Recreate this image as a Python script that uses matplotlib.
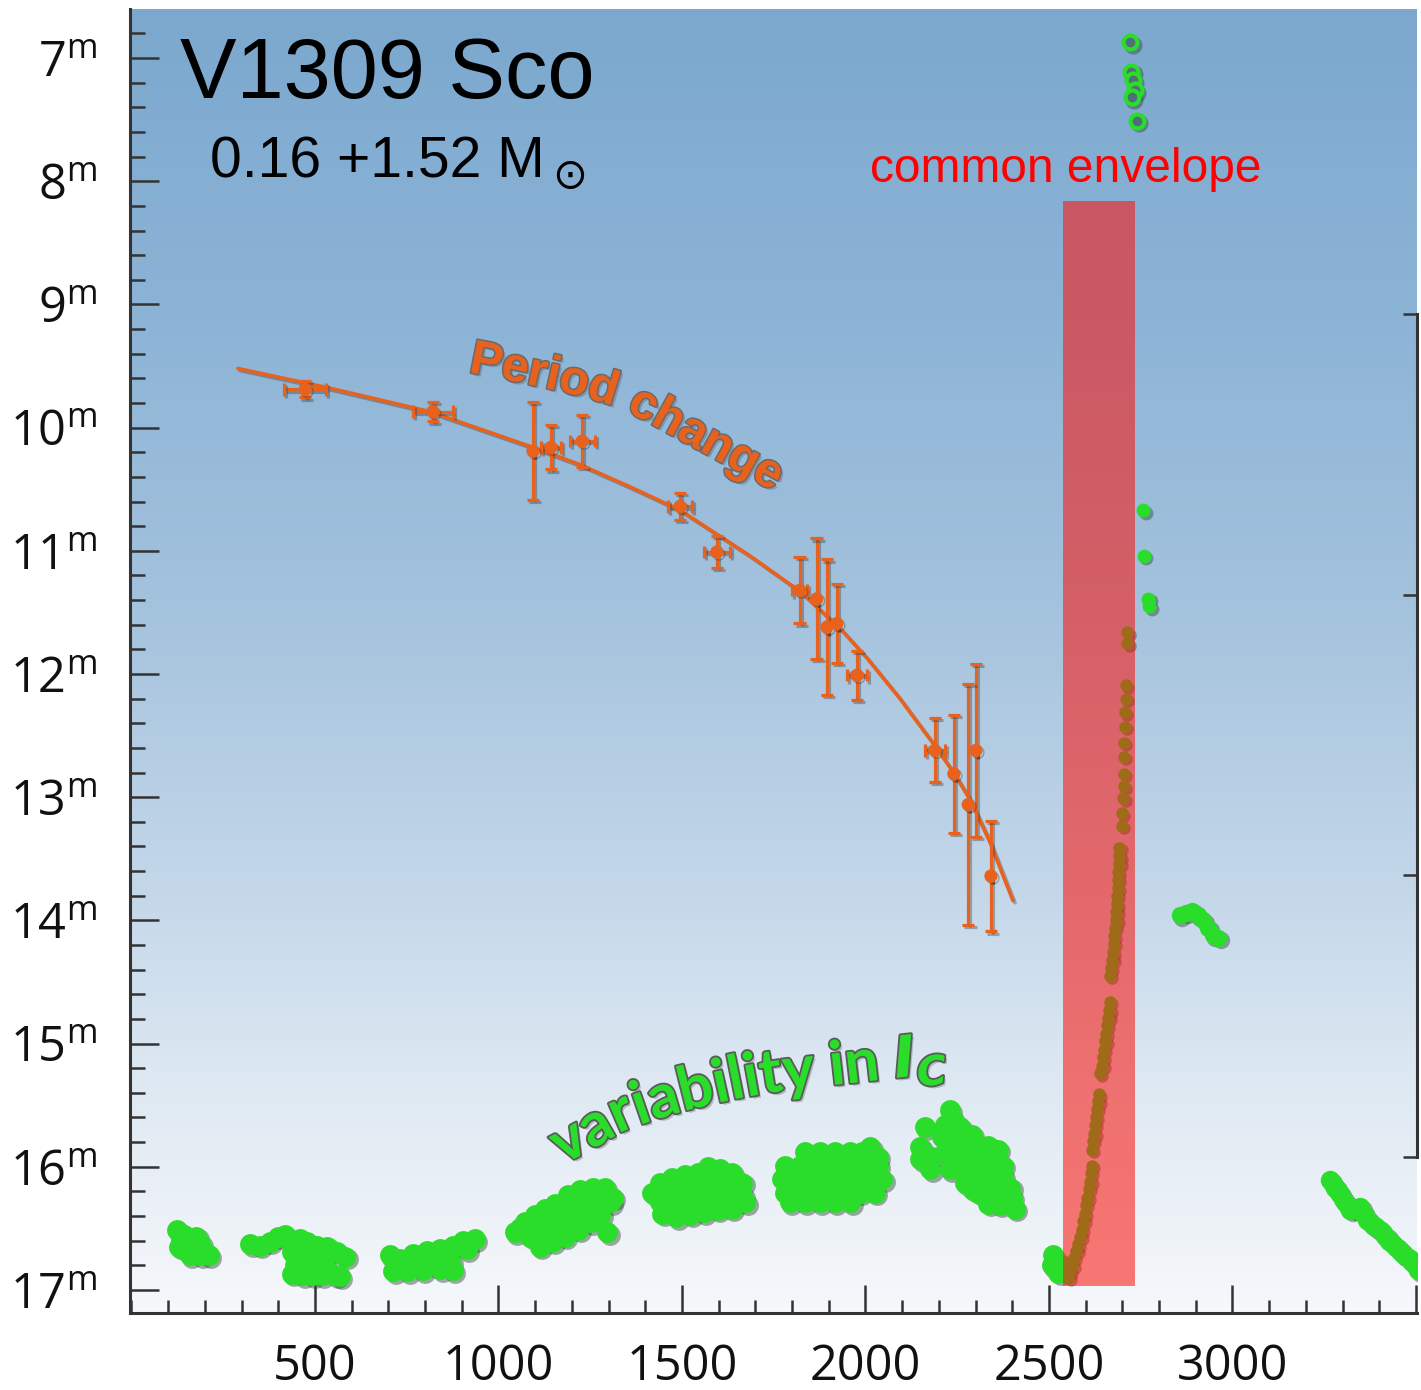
import numpy as np
import matplotlib
matplotlib.use("Agg")
import matplotlib.pyplot as plt
import matplotlib.patheffects as pe
from matplotlib import font_manager, ft2font
from matplotlib.font_manager import FontProperties
from matplotlib.ticker import MultipleLocator
from matplotlib.transforms import IdentityTransform, offset_copy

W_PX, H_PX, DPI = 1421, 1390, 100

# ---------------- axes scales ----------------
day_ticks = [500, 1000, 1500, 2000, 2500, 3000, 3500]
day_labels = ["500", "1000", "1500", "2000", "2500", "3000", ""]
mag_ticks = [7, 8, 9, 10, 11, 12, 13, 14, 15, 16, 17]
period_axis_ticks = [9.08, 11.36, 13.63, 15.92]

# ---------------- period change (timing residuals) ----------------
period_x = [473, 821, 1094, 1143, 1228, 1495, 1595, 1821, 1867, 1895, 1922,
            1977, 2189, 2241, 2280, 2301, 2342]
period_y = [9.69, 9.87, 10.19, 10.16, 10.11, 10.64, 11.01, 11.32, 11.39, 11.62,
            11.59, 12.01, 12.62, 12.81, 13.06, 12.62, 13.64]
period_xerr = [57, 55, 0, 27, 34, 33, 35, 20, 0, 0, 0, 27, 27, 0, 0, 0, 0]
period_yerr = [0.065, 0.08, 0.40, 0.18, 0.21, 0.11, 0.13, 0.27, 0.49, 0.55,
               0.32, 0.20, 0.26, 0.48, 0.98, 0.70, 0.45]
trend_x = [290, 541, 813, 1094, 1222, 1358, 1495, 1685, 1822, 1931, 2004,
           2094, 2181, 2238, 2285, 2340, 2402]
trend_y = [9.52, 9.68, 9.87, 10.16, 10.30, 10.48, 10.67, 11.04, 11.33, 11.63,
           11.87, 12.20, 12.55, 12.79, 13.02, 13.37, 13.84]

# ---------------- I_C photometry, observing seasons ----------------
season1_x = [124, 143, 135, 129, 149, 176, 187, 159, 187, 211]
season1_y = [16.51, 16.55, 16.59, 16.65, 16.68, 16.57, 16.62, 16.72, 16.72, 16.72]

season2_x = [323, 350, 377, 399, 418, 437, 459, 478, 505, 533, 560, 582,
             437, 459, 486, 514, 446, 473, 500, 527, 437, 465, 492, 519, 555, 568]
season2_y = [16.63, 16.64, 16.61, 16.57, 16.55, 16.60, 16.59, 16.61, 16.64, 16.65, 16.69, 16.73,
             16.69, 16.72, 16.73, 16.75, 16.80, 16.81, 16.83, 16.81, 16.87, 16.88, 16.88, 16.88, 16.88, 16.89]

season3_x = [704, 732, 767, 805, 841, 876, 903, 936, 914, 713, 751, 794, 841,
             876, 868, 718, 773, 813, 827]
season3_y = [16.72, 16.75, 16.71, 16.68, 16.67, 16.64, 16.60, 16.59, 16.67, 16.85, 16.85, 16.84, 16.83,
             16.84, 16.77, 16.80, 16.77, 16.76, 16.80]

season4_x = [1045, 1072, 1100, 1127, 1154, 1190, 1222, 1258, 1290, 1312,
             1086, 1121, 1160, 1195, 1230, 1268, 1304,
             1113, 1146, 1181, 1217, 1250, 1277, 1296,
             1060, 1095, 1130, 1165, 1200, 1240, 1275]
season4_y = [16.53, 16.45, 16.39, 16.34, 16.30, 16.23, 16.19, 16.17, 16.17, 16.25,
             16.57, 16.55, 16.49, 16.43, 16.37, 16.31, 16.29,
             16.65, 16.61, 16.57, 16.51, 16.45, 16.39, 16.53,
             16.50, 16.46, 16.41, 16.36, 16.31, 16.26, 16.23]

season5_x = [1418, 1440, 1473, 1508, 1544, 1571, 1604, 1636, 1664,
             1440, 1476, 1511, 1549, 1587, 1625, 1664,
             1446, 1484, 1522, 1560, 1598, 1636, 1672,
             1458, 1494, 1530, 1568, 1606, 1644,
             1462, 1500, 1538, 1576, 1614, 1650]
season5_y = [16.21, 16.13, 16.09, 16.07, 16.05, 16.00, 16.02, 16.05, 16.13,
             16.29, 16.25, 16.22, 16.21, 16.18, 16.17, 16.23,
             16.38, 16.41, 16.39, 16.37, 16.35, 16.34, 16.29,
             16.16, 16.15, 16.14, 16.12, 16.10, 16.11,
             16.33, 16.32, 16.30, 16.28, 16.26, 16.26]

season6_x = [1835, 1876, 1917, 1958, 1990,
             1781, 1822, 1862, 1903, 1944, 1985, 2034,
             1773, 1813, 1854, 1895, 1936, 1977, 2018, 2046,
             1781, 1822, 1862, 1903, 1944, 1985, 2026,
             1794, 1835, 1876, 1917, 1958, 2013, 2034]
season6_y = [15.88, 15.88, 15.88, 15.88, 15.88,
             15.99, 15.99, 15.99, 15.99, 15.99, 15.99, 15.99,
             16.10, 16.10, 16.10, 16.10, 16.10, 16.10, 16.10, 16.10,
             16.21, 16.21, 16.21, 16.21, 16.21, 16.21, 16.21,
             16.29, 16.29, 16.29, 16.29, 16.29, 15.84, 15.92]

season7_x = [2230, 2238, 2217, 2258, 2162, 2290, 2209, 2244, 2149, 2149, 2181,
             2217, 2258, 2299, 2334, 2361, 2176, 2230, 2271, 2312, 2347, 2374,
             2271, 2307, 2339, 2374, 2394, 2307, 2339, 2372, 2399, 2334, 2366, 2407,
             2285, 2320, 2290, 2355, 2355, 2322, 2290]
season7_y = [15.54, 15.62, 15.66, 15.68, 15.68, 15.74, 15.76, 15.78, 15.84, 15.94, 15.92,
             15.88, 15.88, 15.84, 15.83, 15.86, 16.02, 16.02, 15.99, 15.96, 15.94, 15.99,
             16.13, 16.10, 16.08, 16.08, 16.17, 16.21, 16.21, 16.22, 16.25, 16.30, 16.31, 16.34,
             15.90, 16.02, 16.05, 16.05, 16.15, 16.17, 16.18]

preoutburst_x = [2511, 2508, 2525, 2535]
preoutburst_y = [16.72, 16.80, 16.86, 16.80]

rise_x = [2552, 2557, 2563, 2568, 2574, 2579, 2585, 2590, 2593, 2598, 2601, 2604,
          2609, 2612, 2614, 2617,
          2617, 2620, 2623, 2625, 2628, 2631, 2634, 2636,
          2639, 2645, 2647, 2650, 2653, 2655, 2658, 2661, 2664, 2666,
          2666, 2669, 2672, 2674, 2677, 2677, 2680, 2683, 2683, 2685, 2685, 2688,
          2688, 2688, 2691, 2691, 2691,
          2699, 2699, 2702, 2704, 2704, 2704, 2704, 2707, 2707, 2710, 2710, 2713, 2713]
rise_y = [16.90, 16.85, 16.80, 16.74, 16.68, 16.63, 16.57, 16.51, 16.44, 16.38, 16.31, 16.25,
          16.18, 16.12, 16.05, 15.99,
          15.86, 15.79, 15.73, 15.66, 15.60, 15.53, 15.47, 15.41,
          15.24, 15.18, 15.11, 15.05, 14.98, 14.92, 14.85, 14.79, 14.73, 14.66,
          14.45, 14.39, 14.32, 14.26, 14.19, 14.13, 14.06, 14.00, 13.93, 13.87, 13.80, 13.74,
          13.67, 13.61, 13.54, 13.48, 13.41,
          13.23, 13.13, 13.01, 12.91, 12.81, 12.67, 12.56, 12.43, 12.31, 12.20, 12.09, 11.75, 11.66]

peak_x = [2721, 2724, 2729, 2734, 2726, 2740]
peak_y = [6.87, 7.11, 7.18, 7.26, 7.32, 7.51]

decline_early_x = [2757, 2759, 2770, 2773]
decline_early_y = [10.67, 11.04, 11.39, 11.45]

decline_mid_x = [2857, 2873, 2890, 2905, 2920, 2934, 2947, 2961]
decline_mid_y = [13.96, 13.94, 13.92, 13.96, 14.00, 14.06, 14.12, 14.14]

decline_late_x = [3266, 3273, 3280, 3287, 3293, 3300, 3307, 3314, 3321, 3334, 3348, 3358, 3367,
                  3375, 3383, 3392, 3402, 3410, 3419, 3428, 3438, 3447, 3457, 3466, 3476,
                  3483, 3490, 3498, 3506]
decline_late_y = [16.11, 16.14, 16.17, 16.20, 16.22, 16.26, 16.29, 16.32, 16.35, 16.34, 16.33, 16.38, 16.43,
                  16.45, 16.47, 16.49, 16.51, 16.54, 16.57, 16.60, 16.63, 16.65, 16.68, 16.71, 16.73,
                  16.75, 16.77, 16.80, 16.84]

# common-envelope interval
ce_start, ce_end = 2538, 2734
ce_top, ce_bottom = 8.16, 16.97

ORANGE = "#E8621E"
GREEN = "#2BDD2B"
RED_TXT = "#FF0000"

plt.rcParams["font.family"] = ["Open Sans", "DejaVu Sans"]
plt.rcParams["axes.unicode_minus"] = False

fig = plt.figure(figsize=(W_PX / DPI, H_PX / DPI), dpi=DPI, facecolor="white")
ax = fig.add_axes([130 / W_PX, 1 - 1313 / H_PX, (1417 - 130) / W_PX, (1313 - 9) / H_PX])
ax.set_facecolor("white")

# sky-like vertical gradient behind the data
stops = [0.0, 0.163, 0.317, 0.547, 0.777, 1.0]
cols = ["#F6F8FB", "#E0EAF3", "#C5D8EA", "#A3C2DD", "#8BB3D6", "#7CA8CE"]
rgb = np.array([matplotlib.colors.to_rgb(c) for c in cols])
fr = np.linspace(1, 0, 600)
grad = np.stack([np.interp(fr, stops, rgb[:, k]) for k in range(3)], axis=-1)[:, None, :]
ax.imshow(grad, extent=(0, 1, 0, 1), transform=ax.transAxes, aspect="auto",
          interpolation="bicubic", zorder=0)

ax.set_xlim(-4, 3503)
ax.set_ylim(17.187, 6.602)

# ---- period change ----
line_fx = [pe.SimpleLineShadow(offset=(1.5, -1.5), shadow_color="0.2", alpha=0.35), pe.Normal()]
tl, = ax.plot(trend_x, trend_y, color=ORANGE, lw=2.6, zorder=3, solid_capstyle="round",
              solid_joinstyle="round")
tl.set_path_effects(line_fx)
eb = ax.errorbar(period_x, period_y, xerr=period_xerr, yerr=period_yerr, fmt="o", ms=8.5,
                 color=ORANGE, ecolor=ORANGE, elinewidth=2.3, capsize=4.5, capthick=2.3, zorder=3)
data_line, caplines, barcols = eb.lines
for a in [data_line, *caplines, *barcols]:
    a.set_path_effects(line_fx)

# ---- I_C light curve ----
shadow_tr = offset_copy(ax.transData, fig=fig, x=2.5, y=-2.5, units="dots")


def green_points(xs, ys, ms, **kw):
    ax.plot(xs, ys, "o", ms=ms, color="#2f4a36", alpha=0.45, mew=0, transform=shadow_tr, zorder=3.5)
    ax.plot(xs, ys, "o", ms=ms, color=GREEN, mew=0, zorder=4, **kw)


for sx, sy in [(season1_x, season1_y), (season2_x, season2_y), (season3_x, season3_y),
               (season4_x, season4_y), (season5_x, season5_y), (season6_x, season6_y),
               (season7_x, season7_y), (preoutburst_x, preoutburst_y)]:
    green_points(sx, sy, 15)
green_points(rise_x, rise_y, 9)
green_points(decline_early_x, decline_early_y, 10)
green_points(decline_mid_x, decline_mid_y, 12.5)
green_points(decline_late_x, decline_late_y, 14)
ax.plot(peak_x, peak_y, "o", ms=10, mfc="none", mec="#2f4a36", mew=3, alpha=0.45,
        transform=shadow_tr, zorder=3.5)
ax.plot(peak_x, peak_y, "o", ms=10, mfc="#4f6f78", mec=GREEN, mew=3, zorder=4)

# ---- common envelope bar ----
ax.bar([ce_start], [ce_bottom - ce_top], bottom=[ce_top], width=ce_end - ce_start,
       align="edge", color=(0.99, 0.07, 0.04), alpha=0.56, lw=0, zorder=5)

# ---- axes styling ----
for side in ["top", "right"]:
    ax.spines[side].set_visible(False)
for side in ["left", "bottom"]:
    ax.spines[side].set_linewidth(2.2)
    ax.spines[side].set_color("#333333")
    ax.spines[side].set_zorder(6)

ax.set_xticks(day_ticks, labels=day_labels)
ax.set_yticks(mag_ticks, labels=[rf"$\mathregular{{{m}^{{m}}}}$" for m in mag_ticks])
ax.xaxis.set_minor_locator(MultipleLocator(100))
ax.yaxis.set_minor_locator(MultipleLocator(0.2))
ax.tick_params(axis="both", which="both", direction="in", color="#333333", width=1.8)
ax.tick_params(axis="y", which="major", length=21, pad=24, labelsize=35)
ax.tick_params(axis="y", which="minor", length=10.5)
ax.tick_params(axis="x", which="major", length=20, pad=21, labelsize=35)
ax.tick_params(axis="x", which="minor", length=9.5)
for lab in ax.get_xticklabels() + ax.get_yticklabels():
    lab.set_color("#111111")

# bracket axis on the right for the period scale
ax2 = ax.twinx()
ax2.set_ylim(ax.get_ylim())
for side in ["left", "top", "bottom"]:
    ax2.spines[side].set_visible(False)
ax2.spines["right"].set_bounds(period_axis_ticks[0], period_axis_ticks[-1])
ax2.spines["right"].set_linewidth(2.2)
ax2.spines["right"].set_color("#333333")
ax2.set_yticks(period_axis_ticks)
ax2.tick_params(axis="y", direction="in", length=10, width=1.8, color="#333333", labelright=False)
ax2.yaxis.set_minor_locator(matplotlib.ticker.NullLocator())


# ---------------- annotations ----------------
def fpos(x, y):
    return x / W_PX, 1 - y / H_PX


fig.text(*fpos(180, 98), "V1309 Sco", family="Liberation Sans", fontsize=61,
         ha="left", va="baseline", color="black")
fig.text(*fpos(210, 178), "0.16 +1.52 M", family="Liberation Sans", fontsize=41,
         ha="left", va="baseline", color="black")
fig.text(*fpos(570, 176), "\u2299", family="DejaVu Sans", fontsize=30,
         ha="center", va="center", color="black")
fig.text(*fpos(870, 182), "common envelope", family="Liberation Sans", fontsize=34.5,
         ha="left", va="baseline", color=RED_TXT)


def advance_px(ch, prop):
    font = ft2font.FT2Font(font_manager.findfont(prop), hinting_factor=1)
    font.set_size(prop.get_size_in_points(), DPI)
    g = font.load_char(ord(ch))
    return g.linearHoriAdvance / 65536.0


def text_along(path_px, pieces, fit_to_vertex=None, text_fx=None, color="k"):
    pts = np.array(path_px, float)
    pts[:, 1] = H_PX - pts[:, 1]
    seg = np.hypot(*np.diff(pts, axis=0).T)
    cum = np.concatenate([[0], np.cumsum(seg)])

    def at(s):
        return np.interp(s, cum, pts[:, 0]), np.interp(s, cum, pts[:, 1])

    def heading(s):
        h = 18
        x1, y1 = at(max(s - h, 0))
        x2, y2 = at(s + h)
        return np.degrees(np.arctan2(y2 - y1, x2 - x1))

    if fit_to_vertex is not None:
        target = cum[fit_to_vertex]
        fit_text, fit_prop = pieces[0][0], pieces[0][1]
        total = sum(advance_px(c, fit_prop) for c in fit_text)
        scale = target / total
        for p in pieces:
            p[1].set_size(p[1].get_size_in_points() * scale)

    s = 0.0
    for text, prop, dy in pieces:
        for ch in text:
            adv = advance_px(ch, prop)
            sc = s + adv / 2
            x, y = at(sc)
            ang = heading(sc)
            nx, ny = -np.sin(np.radians(ang)), np.cos(np.radians(ang))
            if ch != " ":
                fig.text(x - dy * nx, y - dy * ny, ch, fontproperties=prop, rotation=ang,
                         rotation_mode="anchor", ha="center", va="baseline",
                         transform=IdentityTransform(), color=color, path_effects=text_fx)
            s += adv


period_path = [(468, 372), (513, 381), (550, 389), (580, 396), (612, 405), (640, 418),
               (680, 440), (720, 462), (775, 492), (830, 525)]
text_along(period_path,
           [("Period change", FontProperties(family="Liberation Sans", weight="bold", size=34), 0)],
           fit_to_vertex=8, color=ORANGE,
           text_fx=[pe.SimplePatchShadow(offset=(2, -2), shadow_rgbFace="0.3", alpha=0.3),
                    pe.Stroke(linewidth=2.2, foreground="#6a6a6a"), pe.Normal()])

var_path = [(563, 1165), (600, 1145), (623, 1131), (660, 1118), (700, 1107), (740, 1098),
            (780, 1091), (833, 1085), (870, 1081), (895, 1078), (950, 1072), (1010, 1068)]
var_main = FontProperties(family="Lato", weight="bold", size=36)
var_I = FontProperties(family="DejaVu Sans", weight="bold", style="oblique", size=34)
var_C = FontProperties(family="DejaVu Sans", weight="bold", style="oblique", size=24)
text_along(var_path,
           [("variability in ", var_main, 0), ("I", var_I, 0), ("C", var_C, 11)],
           fit_to_vertex=9, color=GREEN,
           text_fx=[pe.SimplePatchShadow(offset=(2, -2), shadow_rgbFace="0.3", alpha=0.3),
                    pe.Stroke(linewidth=2.6, foreground="#5a5a5a"), pe.Normal()])

fig.savefig("out.png", dpi=DPI, facecolor="white")
